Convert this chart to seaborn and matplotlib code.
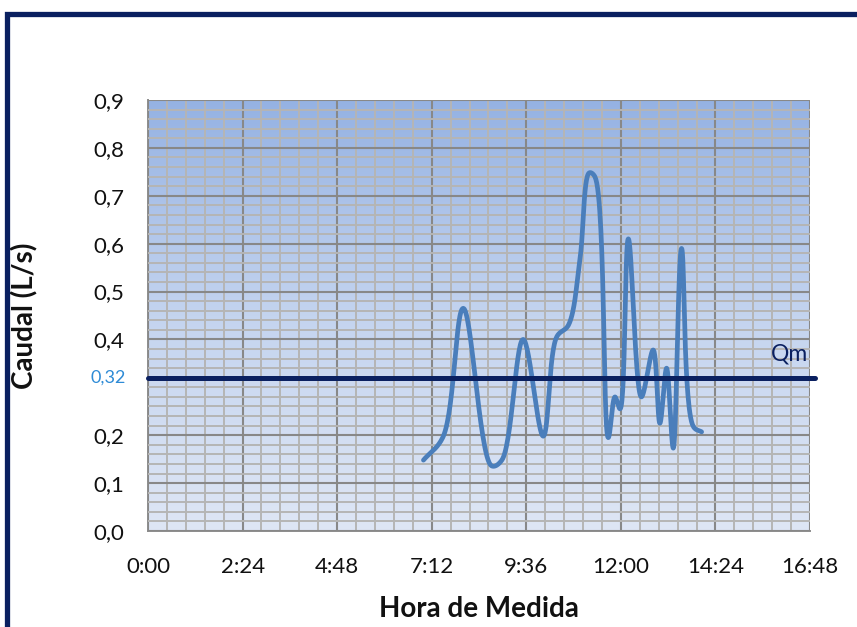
import numpy as np
import pandas as pd
import seaborn as sns
import matplotlib.pyplot as plt
from matplotlib.patches import Rectangle
from matplotlib.ticker import MultipleLocator, FixedLocator, FuncFormatter

# data (hours since 0:00, L/s)
hora = [6.99, 7.49, 8.00, 8.72, 8.98, 9.52, 10.03, 10.37, 10.67, 10.96,
        11.20, 11.34, 11.68, 11.85, 11.98, 12.19, 12.52, 12.82, 12.99,
        13.16, 13.33, 13.54, 13.84, 14.05]
caudal = [0.148, 0.197, 0.465, 0.136, 0.148, 0.400, 0.198, 0.405, 0.430, 0.566,
          0.748, 0.740, 0.195, 0.280, 0.255, 0.610, 0.280, 0.378, 0.225,
          0.340, 0.173, 0.590, 0.218, 0.207]
qm = 0.32
x_ticks = [0, 2.4, 4.8, 7.2, 9.6, 12.0, 14.4, 16.8]
y_ticks = [0.0, 0.1, 0.2, 0.4, 0.5, 0.6, 0.7, 0.8, 0.9]


def smooth(x, y, n=30, alpha=0.5):
    # excel-like smoothed line: centripetal catmull-rom through the points,
    # distances measured in screen-ish units
    sx, sy = 662 / 16.8, 431 / 0.9
    p = np.column_stack([np.asarray(x) * sx, np.asarray(y) * sy])
    p = np.vstack([2 * p[0] - p[1], p, 2 * p[-1] - p[-2]])
    out = []
    for i in range(1, len(p) - 2):
        p0, p1, p2, p3 = p[i - 1], p[i], p[i + 1], p[i + 2]
        t0 = 0.0
        t1 = t0 + np.linalg.norm(p1 - p0) ** alpha
        t2 = t1 + np.linalg.norm(p2 - p1) ** alpha
        t3 = t2 + np.linalg.norm(p3 - p2) ** alpha
        t = np.linspace(t1, t2, n, endpoint=False)[:, None]
        a1 = (t1 - t) / (t1 - t0) * p0 + (t - t0) / (t1 - t0) * p1
        a2 = (t2 - t) / (t2 - t1) * p1 + (t - t1) / (t2 - t1) * p2
        a3 = (t3 - t) / (t3 - t2) * p2 + (t - t2) / (t3 - t2) * p3
        b1 = (t2 - t) / (t2 - t0) * a1 + (t - t0) / (t2 - t0) * a2
        b2 = (t3 - t) / (t3 - t1) * a2 + (t - t1) / (t3 - t1) * a3
        out.append((t2 - t) / (t2 - t1) * b1 + (t - t1) / (t2 - t1) * b2)
    out.append(p[-2][None, :])
    out = np.vstack(out)
    return out[:, 0] / sx, out[:, 1] / sy


sns.set_theme(style='white')
plt.rcParams['font.family'] = ['Lato', 'DejaVu Sans']

fig = plt.figure(figsize=(8.57, 6.27), dpi=100)
ax = fig.add_axes([148 / 857, 1 - 531 / 627, 662 / 857, 431 / 627])

# gradient background of the plot area
grad = np.linspace(0, 1, 256)[:, None]
cmap = sns.blend_palette(['#dee6f5', '#c4d4ef', '#95b2e3'], as_cmap=True)
ax.imshow(grad, cmap=cmap, aspect='auto', extent=[0, 1, 0, 1],
          transform=ax.transAxes, origin='lower', zorder=0)

ax.set_xlim(0, 16.8)
ax.set_ylim(0, 0.9)

ax.xaxis.set_major_locator(FixedLocator(x_ticks))
ax.xaxis.set_minor_locator(MultipleLocator(0.48))
ax.yaxis.set_major_locator(FixedLocator(y_ticks))
ax.yaxis.set_minor_locator(MultipleLocator(0.02))

ax.xaxis.set_major_formatter(FuncFormatter(
    lambda v, p: '%d:%02d' % (int(v + 1e-6), round((v - int(v + 1e-6)) * 60))))
ax.yaxis.set_major_formatter(FuncFormatter(lambda v, p: ('%.1f' % v).replace('.', ',')))

ax.grid(which='minor', color='#b5b5b5', lw=1.4, zorder=1)
ax.grid(which='major', color='#888888', lw=1.5, zorder=1)
ax.set_axisbelow(False)

ax.tick_params(axis='both', which='major', direction='out', length=7, width=1.2,
               color='#8c8c8c', labelsize=16, labelcolor='#111111')
ax.tick_params(axis='y', pad=10)
ax.tick_params(axis='x', pad=12)
ax.tick_params(which='minor', length=0)

for s in ['top', 'right']:
    ax.spines[s].set_visible(False)
for s in ['left', 'bottom']:
    ax.spines[s].set_color('#8c8c8c')
    ax.spines[s].set_linewidth(1.4)

xs, ys = smooth(hora, caudal)
df = pd.DataFrame({'hora': xs, 'caudal': ys})
sns.lineplot(data=df, x='hora', y='caudal', sort=False, color='#4a7ebb',
             lw=3.4, ax=ax, zorder=3)

# Qm line
ax.axhline(qm, xmin=0, xmax=1.008, color='#0a2060', lw=3.6, zorder=4, clip_on=False)
ax.text(16.28, qm + 0.028, 'Qm', color='#0a2060', fontsize=16.5, ha='center',
        va='bottom', zorder=5)
ax.text(-0.55, qm, ('%.2f' % qm).replace('.', ','), color='#2e8bd6', fontsize=13,
        ha='right', va='center')

ax.set_xlabel('Hora de Medida', fontsize=20, fontweight='bold', color='#111111')
ax.set_ylabel('Caudal (L/s)', fontsize=20, fontweight='bold', color='#111111')
ax.xaxis.set_label_coords(0.5, -0.150)
ax.yaxis.set_label_coords(-0.166, 0.5)

# dark frame of the chart
fig.patches.append(Rectangle((7.5 / 857, -0.2), 1.2, 1 - 13.5 / 627 + 0.2,
                             transform=fig.transFigure, fill=False,
                             edgecolor='#0a2060', lw=3.8, zorder=10))

fig.savefig('out.png', dpi=100, facecolor='white')
